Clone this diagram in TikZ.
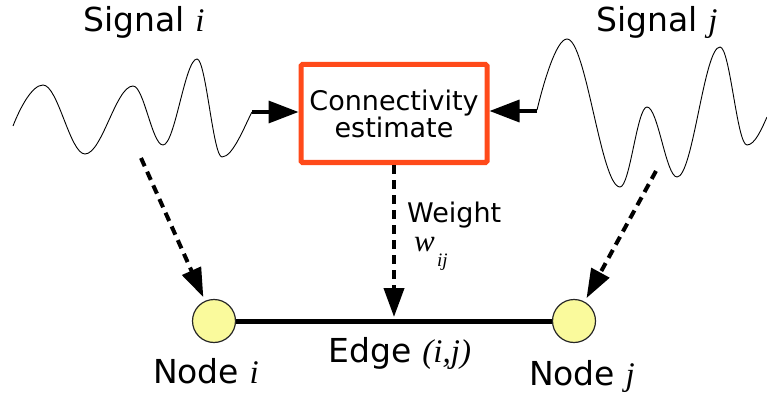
\documentclass[tikz,border=0pt]{standalone}
\usepackage{fontspec}
\setmainfont{DejaVu Sans}
\newfontfamily\serifit{Liberation Serif}[ItalicFont={Liberation Serif Italic}]
\usetikzlibrary{arrows.meta,calc}
\definecolor{boxred}{HTML}{FF4A1A}
\definecolor{nodeyellow}{HTML}{FAFA9C}
\newcommand{\vi}[1]{{\serifit\itshape #1}}
\tikzset{
  wave/.style={line width=0.9pt,black},
  bigfont/.style={font=\fontsize{33}{38}\selectfont},
  midfont/.style={font=\fontsize{27}{27}\selectfont},
  graphnode/.style={circle,draw=black!85,line width=1.2pt,fill=nodeyellow,minimum size=43pt,inner sep=0pt},
  solidarrow/.style={line width=3.5pt,-{Triangle[length=30pt,width=22pt]}},
  dasharrow/.style={line width=4pt,dash pattern=on 9pt off 6pt,-{Triangle[length=29pt,width=20pt]},shorten >=4pt},
  estbox/.style={draw=boxred,line width=5pt,rounded corners=1.5pt,minimum width=186pt,minimum height=98pt,align=center,inner sep=0pt},
  lbl/.style={anchor=base,inner sep=0pt}
}
\begin{document}
\begin{tikzpicture}[x=1pt,y=-1pt]
\useasboundingbox (0,0) rectangle (767,398);
% waves
\draw[wave] (13,126) .. controls (20,108) and (32,85) .. (43,85)
  .. controls (58,85) and (70,154) .. (85,154)
  .. controls (102,154) and (116,86) .. (133,86)
  .. controls (144,86) and (152,145) .. (163,145)
  .. controls (175,145) and (185,59) .. (197,59)
  .. controls (206,59) and (213,157) .. (222,157)
  .. controls (233,157) and (245,125) .. (252,112);
\draw[wave] (537,110) .. controls (543,85) and (556,39) .. (567,39)
  .. controls (586,39) and (601,187) .. (620,187)
  .. controls (630,187) and (637,107) .. (647,107)
  .. controls (658,107) and (666,177) .. (677,177)
  .. controls (693,177) and (704,47) .. (720,47)
  .. controls (730,47) and (737,145) .. (747,145)
  .. controls (755,145) and (762,128) .. (767,117);
\coordinate (sie) at (252,112);
\coordinate (sjs) at (537,111);
\coordinate (sid) at (141,158);
\coordinate (sjd) at (656,171);
% box
\node[estbox,midfont] (box) at (394,113.5) {Connectivity\\estimate};
% nodes
\node[graphnode] (ni) at (214,321) {};
\node[graphnode] (nj) at (574,321) {};
\coordinate (em) at ($(ni)!0.5!(nj)$);
% edge
\draw[line width=5pt] (ni) -- (nj);
% arrows
\draw[solidarrow] (sie) -- (box.west |- sie);
\draw[solidarrow] (sjs) -- (box.east |- sjs);
\draw[dasharrow] (sid) -- (ni);
\draw[dasharrow] (sjd) -- (nj);
\draw[dasharrow] (box.south) -- (em);
% labels
\node[lbl,bigfont] (lsi) at (144,32) {Signal \vi{i}};
\node[lbl,bigfont] (lsj) at (657,32) {Signal \vi{j}};
\node[lbl,bigfont] (lni) at (206,383) {Node \vi{i}};
\node[lbl,bigfont] (lnj) at (582,385) {Node \vi{j}};
\node[lbl,bigfont] (le) at (400,362) {Edge \vi{(i,j)}};
\node[lbl,midfont,anchor=base west] (lw) at (407,222) {Weight};
\node[lbl,anchor=base west,font=\fontsize{31}{31}\selectfont] (lwij) at (414,251) {\vi{w}};
\node[lbl,anchor=base west,font=\fontsize{19}{19}\selectfont] (lsub) at (437,266) {\vi{ij}};
\end{tikzpicture}
\end{document}
